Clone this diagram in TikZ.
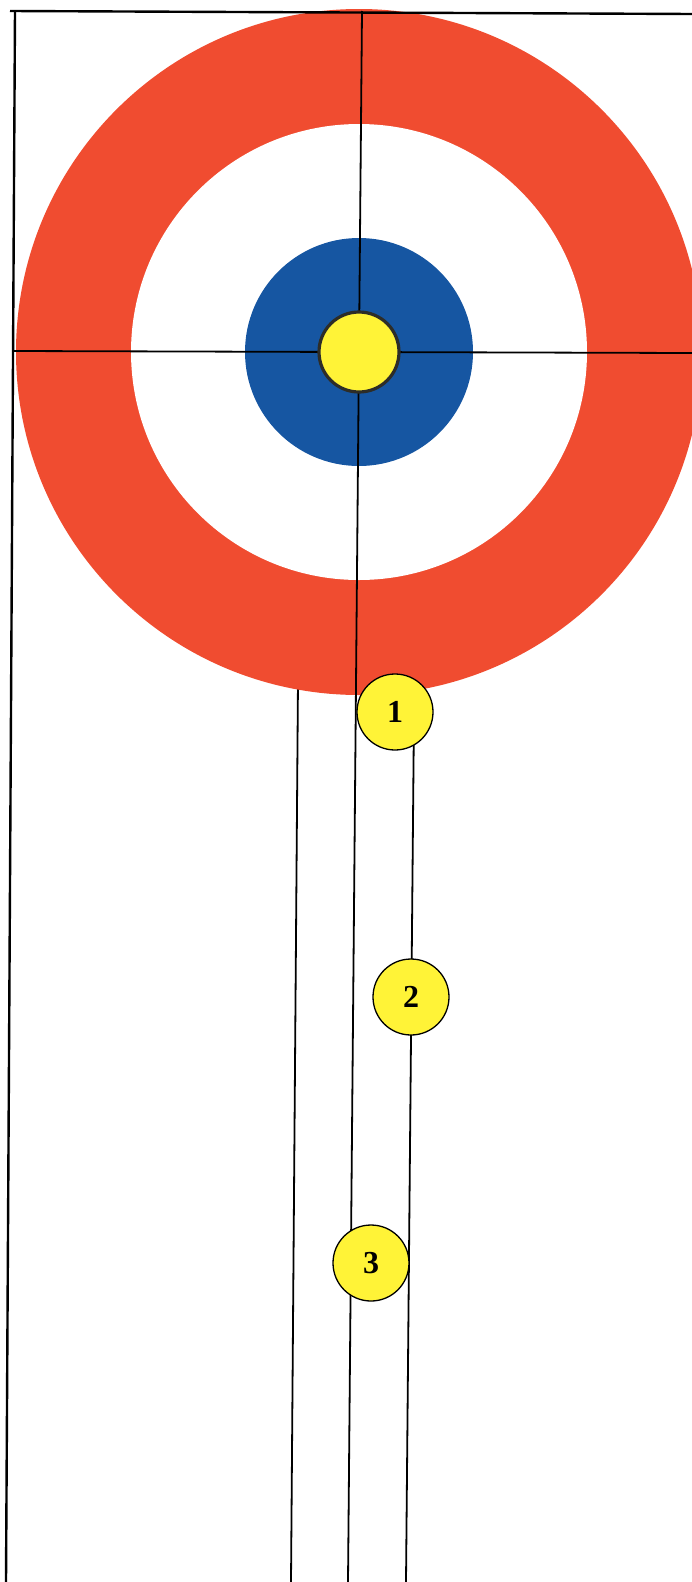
\documentclass[tikz,border=0pt]{standalone}
\usepackage{fontspec}
\setmainfont{Liberation Serif}
\usetikzlibrary{positioning}
\definecolor{HouseRed}{RGB}{240,76,48}
\definecolor{HouseBlue}{RGB}{22,86,162}
\definecolor{StoneYellow}{RGB}{255,243,55}
\definecolor{RimGray}{RGB}{45,45,40}

\begin{document}
\begin{tikzpicture}[x=1pt, y=-1pt,
    stone/.style={circle, draw=black, line width=1.3pt, fill=StoneYellow, minimum size=76pt, inner sep=0pt, font=\fontsize{32}{36}\selectfont\bfseries},
    path line/.style={line width=1.8pt, black}]
  \useasboundingbox (0,0) rectangle (692,1582);
  \clip (0,0) rectangle (692,1582);
  % stone paths
  \coordinate (la) at (298,680); \coordinate (lb) at (291,1582);
  \coordinate (ra) at (414,712); \coordinate (rb) at (406,1582);
  \draw[path line] (la) -- (lb);
  \draw[path line] (ra) -- (rb);
  % house
  \coordinate (tee) at (359,352);
  \fill[HouseRed] (tee) circle (343);
  \fill[white] (tee) circle (228);
  \fill[HouseBlue] (tee) circle (114);
  % centre line and tee line
  \coordinate (ctop) at (362,11); \coordinate (cbot) at (348,1582);
  \coordinate (tl) at (13,351); \coordinate (tr) at (692,353);
  \draw[path line] (ctop) -- (cbot);
  \draw[path line] (tl) -- (tr);
  \node[circle, draw=RimGray, line width=3.2pt, fill=StoneYellow, minimum size=80pt, inner sep=0pt] (button) at (tee) {};
  % sheet border
  \draw[line width=2.4pt] (10,11) -- (692,14);
  \draw[line width=2.4pt] (15,11) -- (6,1582);
  % stones
  \node[stone] (s1) at (395,712) {1};
  \node[stone] (s2) at (411,997) {2};
  \node[stone] (s3) at (371,1263) {3};
\end{tikzpicture}
\end{document}
